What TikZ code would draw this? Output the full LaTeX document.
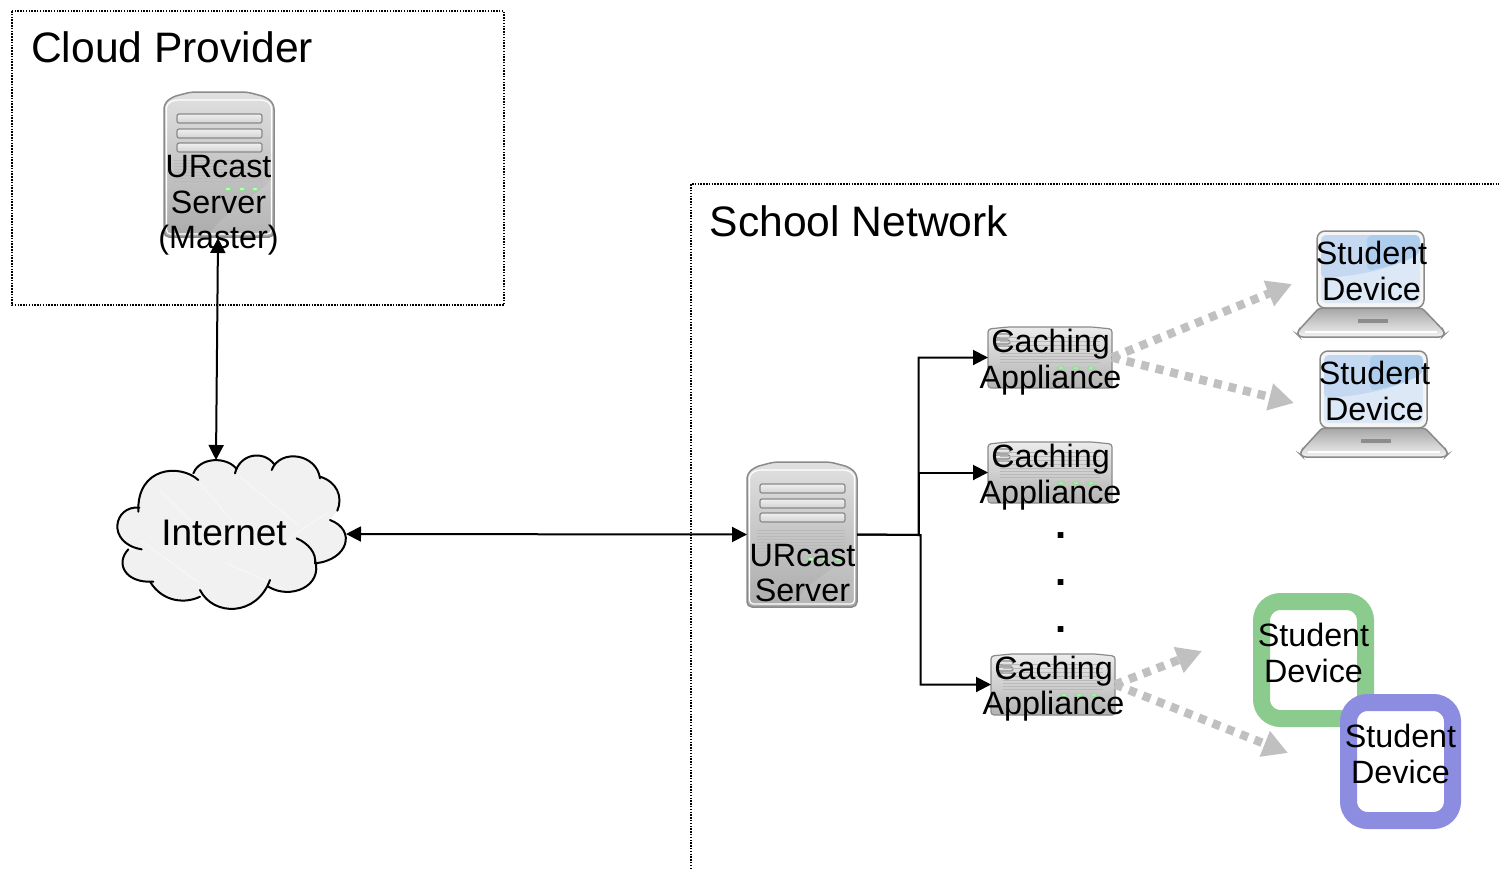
\documentclass[tikz,border=0pt]{standalone}
\usepackage{fontspec}
\setmainfont{Liberation Sans}
\usetikzlibrary{arrows.meta,shapes.misc}
\definecolor{frameGray}{HTML}{8A8A8A}
\definecolor{flowGray}{HTML}{C0C0C0}
\definecolor{ledGreen}{HTML}{8FE08F}
\definecolor{devGreen}{HTML}{8CCB8E}
\definecolor{devBlue}{HTML}{8C8CE0}
\definecolor{scrA}{HTML}{DCE8F6}
\definecolor{scrB}{HTML}{C4D9F1}
\definecolor{scrC}{HTML}{AECDEC}
\tikzset{
  hollow/.style={inner sep=0pt,outer sep=0pt,minimum width=#1},
  zone/.style={draw=black,line width=1.7pt,dash pattern=on 1.5pt off 1.3pt},
  link/.style={draw=black,line width=2pt},
  tipb/.style={-{Triangle[length=15pt,width=15pt]}},
  tipbb/.style={{Triangle[length=15pt,width=15pt]}-{Triangle[length=15pt,width=15pt]}},
  flow/.style={draw=flowGray,line width=8.5pt,dash pattern=on 8pt off 7pt,-{Triangle[length=25pt,width=26pt,fill=flowGray]},shorten >=0pt},
  title/.style={font=\fontsize{42.6}{46}\selectfont,anchor=base west,inner sep=0pt},
  lbl/.style={font=\fontsize{32.3}{35.5}\selectfont,align=center,inner sep=0pt},
  dotmark/.style={font=\bfseries\fontsize{40}{44}\selectfont,anchor=base,inner sep=0pt},
  tablet/.style={line width=17pt,fill=white,rounded corners=19pt,minimum width=104pt,inner sep=0pt},
  slot/.style={draw=frameGray,line width=1.2pt,rounded corners=2pt,top color=gray!12,bottom color=gray!35},
  vent/.style={draw=gray!55,line width=0.8pt},
  led/.style={draw=ledGreen,line width=1.2pt,fill=ledGreen!40},
  serverico/.pic={
    \path[draw=frameGray,line width=1.5pt,top color=gray!24,bottom color=gray!66,rounded corners=5pt]
      (0,145) -- (0,12) -- (8,5) -- (27,0) -- (83,0) -- (102,5) -- (110,12) -- (110,145) -- cycle;
    \fill[white,opacity=.12] (107,88) .. controls (85,110) and (60,120) .. (45,142) -- (107,142) -- cycle;
    \draw[white,line width=1.2pt,rounded corners=4pt] (2.5,142) -- (2.5,12) -- (10,8) -- (100,8) -- (107.5,12) -- (107.5,142) -- cycle;
    \foreach \yy in {22,37,51} \draw[slot] (13,\yy) rectangle (98,\yy+9);
    \foreach \yy in {68,71,74,77,80,83,86,89} \draw[vent] (10,\yy) -- (98,\yy);
    \foreach \xx in {64,78,91} \draw[led] (\xx,97) ellipse (3pt and 1.8pt);
  },
  boxico/.pic={
    \path[draw=frameGray,line width=1.2pt,top color=gray!15,bottom color=gray!60,rounded corners=3pt]
      (0,61) -- (0,2) -- (20,0) -- (104,0) -- (124,2) -- (124,61) -- cycle;
    \foreach \yy in {7,13,19} \draw[slot] (7,\yy) rectangle (22,\yy+4);
    \foreach \yy in {10,14,18,22,26,29,32,35} \draw[vent] (12,\yy) -- (112,\yy);
    \foreach \xx in {73,88,103} \draw[led] (\xx,41) ellipse (3.5pt and 1.2pt);
  },
  laptopico/.pic={
    \path[draw=frameGray,line width=1.5pt,fill=gray!8,rounded corners=8pt] (20,77) -- (20,0) -- (127,0) -- (127,77) -- cycle;
    \path[top color=gray!70,bottom color=gray!10,draw=frameGray,line width=1.5pt,rounded corners=3pt]
      (22,77) -- (125,77) -- (146,99) -- (148,103) -- (145,106) -- (3,106) -- (0,103) -- (2,99) -- cycle;
    \draw[white,line width=1.2pt] (8,101) -- (140,101);
    \fill[gray!90] (61,88) rectangle (91,92);
    \path[fill=scrA,rounded corners=5pt] (24,4) rectangle (123,72);
    \path[fill=scrB,rounded corners=5pt] (24,4) -- (123,4) -- (123,22) .. controls (95,38) and (60,45) .. (24,47) -- cycle;
    \path[fill=scrC,rounded corners=5pt] (70,4) -- (123,4) -- (123,22) .. controls (110,30) and (90,36) .. (70,40) -- cycle;
  }
}
\newcommand{\cloudpath}[1]{
  (295,120) .. controls (240,70) and (110,80) .. (115,215) #1
  (118,203) .. controls (40,195) and (18,310) .. (125,328) #1
  (85,328) .. controls (45,370) and (75,430) .. (160,425) #1
  (150,425) .. controls (190,490) and (260,490) .. (300,470) #1
  (300,450) .. controls (340,530) and (470,530) .. (510,420) #1
  (505,440) .. controls (570,480) and (670,440) .. (645,360) #1
  (645,370) .. controls (745,360) and (770,270) .. (690,240) #1
  (712,212) .. controls (730,170) and (710,125) .. (660,110) #1
  (660,115) .. controls (650,40) and (540,25) .. (515,90) #1
  (522,72) .. controls (490,30) and (420,40) .. (405,100) #1
  (408,85) .. controls (380,50) and (300,50) .. (280,100)
}
\begin{document}
\begin{tikzpicture}[x=1pt,y=-1pt]
\useasboundingbox (0,0) rectangle (1499,871);
% zones
\draw[zone] (12,11) rectangle (504,305);
\coordinate (schoolBottom) at (691,869);
\coordinate (schoolCorner) at (691,184);
\coordinate (schoolRight) at (1499,184);
\draw[zone] (schoolBottom) -- (schoolCorner) -- (schoolRight);
\node[title] (cloudTitle) at (31,62) {Cloud Provider};
\node[title] (schoolTitle) at (709.5,236) {School Network};
% cloud
\begin{scope}[shift={(100,440)},x=0.33333pt,y=-0.33333pt]
  \fill[gray!11] \cloudpath{--} -- cycle;
  \foreach \a/\b/\c/\d in {180/150/330/300,300/130/470/330,420/110/600/260,120/300/300/430,380/370/560/450,560/300/680/220}
    \draw[white,line width=1pt,opacity=.45] (\a,\b) -- (\c,\d);
  \draw[black,line width=2pt,line cap=round] \cloudpath{};
  \draw[black,line width=2pt,line cap=round] (590,295) .. controls (625,310) and (650,340) .. (645,370);
\end{scope}
\node[hollow=230pt,minimum height=157pt] (inet) at (231,534) {};
\node[font=\fontsize{37}{40}\selectfont,inner sep=0pt] (inetLabel) at (224,532.5) {Internet};
\coordinate (inetTop) at (216,460);
% servers
\node[hollow=110pt,minimum height=146pt] (master) at (218,165) {};
\pic at (164,92) {serverico};
\node[lbl] (masterLabel) at (218.5,205.5) {URcast\\Server\\(Master)};
\node[hollow=110pt,minimum height=145pt] (srv) at (802,534.5) {};
\pic at (747,462) {serverico};
\node[lbl] (srvLabel) at (802.5,573) {URcast\\Server};
% caching appliances
\node[hollow=124pt,minimum height=61pt] (cacheA) at (1050,357.5) {};
\pic at (988,327) {boxico};
\node[lbl] (cacheAl) at (1050.5,362) {Caching\\Appliance};
\node[hollow=124pt,minimum height=61pt] (cacheB) at (1050,472.5) {};
\pic at (988,442) {boxico};
\node[lbl] (cacheBl) at (1050.5,477) {Caching\\Appliance};
\node[hollow=124pt,minimum height=61pt] (cacheC) at (1053,684.5) {};
\pic at (991,654) {boxico};
\node[lbl] (cacheCl) at (1053.5,688.5) {Caching\\Appliance};
\node[dotmark] (dotA) at (1061,538) {.};
\node[dotmark] (dotB) at (1061,585) {.};
\node[dotmark] (dotC) at (1061,632) {.};
% laptops
\node[hollow=148pt,minimum height=107pt] (lapA) at (1371,284.5) {};
\pic at (1297,231) {laptopico};
\node[lbl] (lapAl) at (1371.5,271) {Student\\Device};
\node[hollow=148pt,minimum height=107pt] (lapB) at (1374,404.5) {};
\pic at (1300,351) {laptopico};
\node[lbl] (lapBl) at (1374.5,391) {Student\\Device};
% tablets
\node[tablet,draw=devGreen,minimum height=117pt] (tabA) at (1313.5,660) {};
\node[lbl] (tabAl) at (1313.5,653) {Student\\Device};
\node[tablet,draw=devBlue,minimum height=118pt] (tabB) at (1400.5,761.5) {};
\node[lbl] (tabBl) at (1400.5,754) {Student\\Device};
% connectors
\draw[link,tipbb] (master.south) -- (inetTop);
\draw[link,tipbb] (inet.east) -- (srv.west);
\coordinate (busA) at (918.5,535);
\coordinate (busB) at (920.5,535);
\draw[link,tipb] (srv.east) -- (busA) |- (cacheA.west);
\draw[link,tipb] (busA) |- (cacheB.west);
\draw[link,tipb] (srv.east) -- (busB) |- (cacheC.west);
\coordinate (tipA) at (1292,284);
\coordinate (tipB) at (1294,403);
\coordinate (tipC) at (1202,651);
\coordinate (tipD) at (1288,753);
\draw[flow] (cacheA.east) -- (tipA);
\draw[flow] (cacheA.east) -- (tipB);
\draw[flow] (cacheC.east) -- (tipC);
\draw[flow] (cacheC.east) -- (tipD);
\end{tikzpicture}
\end{document}
